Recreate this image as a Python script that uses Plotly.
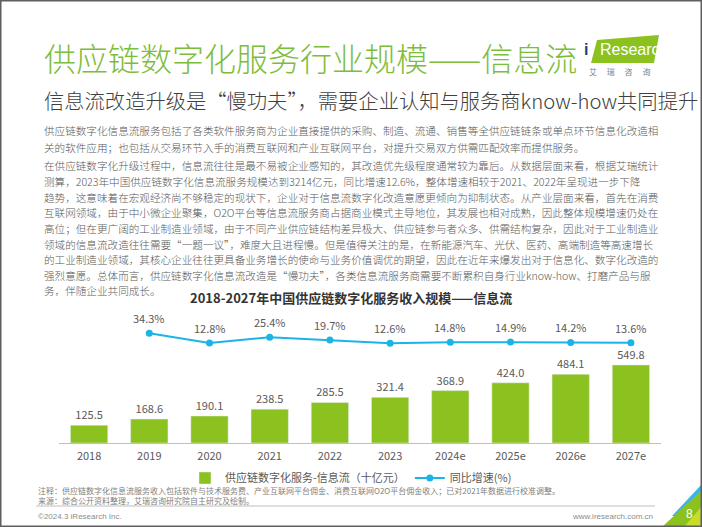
# iResearch slide: supply chain digital service scale - information flow

import plotly.graph_objects as go

W, H = 702, 527

# chart data
years = ['2018', '2019', '2020', '2021', '2022', '2023', '2024e', '2025e', '2026e', '2027e']
revenue = [125.5, 168.6, 190.1, 238.5, 285.5, 321.4, 368.9, 424.0, 484.1, 549.8]
growth_years = ['2019', '2020', '2021', '2022', '2023', '2024e', '2025e', '2026e', '2027e']
growth = [34.3, 12.8, 25.4, 19.7, 12.6, 14.8, 14.9, 14.2, 13.6]

# slide text
title = '供应链数字化服务行业规模——信息流'
subtitle = '信息流改造升级是“慢功夫”，需要企业认知与服务商know-how共同提升'
para1 = [
    '供应链数字化信息流服务包括了各类软件服务商为企业直接提供的采购、制造、流通、销售等全供应链链条或单点环节信息化改造相',
    '关的软件应用；也包括从交易环节入手的消费互联网和产业互联网平台，对提升交易双方供需匹配效率而提供服务。',
]
para2 = [
    '在供应链数字化升级过程中，信息流往往是最不易被企业感知的，其改造优先级程度通常较为靠后。从数据层面来看，根据艾瑞统计',
    '测算，2023年中国供应链数字化信息流服务规模达到3214亿元，同比增速12.6%，整体增速相较于2021、2022年呈现进一步下降',
    '趋势，这意味着在宏观经济尚不够稳定的现状下，企业对于信息流数字化改造意愿更倾向为抑制状态。从产业层面来看，首先在消费',
    '互联网领域，由于中小微企业聚集，O2O平台等信息流服务商占据商业模式主导地位，其发展也相对成熟，因此整体规模增速仍处在',
    '高位；但在更广阔的工业制造业领域，由于不同产业供应链结构差异极大、供应链参与者众多、供需结构复杂，因此对于工业制造业',
    '领域的信息流改造往往需要“一题一议”，难度大且进程慢。但是值得关注的是，在新能源汽车、光伏、医药、高端制造等高速增长',
    '的工业制造业领域，其核心企业往往更具备业务增长的使命与业务价值调优的期望，因此在近年来爆发出对于信息化、数字化改造的',
    '强烈意愿。总体而言，供应链数字化信息流改造是“慢功夫”，各类信息流服务商需要不断累积自身行业know-how、打磨产品与服',
    '务，伴随企业共同成长。',
]
chart_title = '2018-2027年中国供应链数字化服务收入规模——信息流'
note = '注释：供应链数字化信息流服务收入包括软件与技术服务费、产业互联网平台佣金、消费互联网O2O平台佣金收入；已对2021年数据进行校准调整。'
source = '来源：综合公开资料整理，艾瑞咨询研究院自主研究及绘制。'

FONT = 'Noto Sans CJK SC'
GREEN = '#8cc21f'
BLUE = '#1cb4e6'
GREY = '#595959'


def px(x):
    return x / W


def py(y):
    return 1 - y / H


def path(points):
    return 'M ' + ' L '.join(f'{px(x):.4f},{py(y):.4f}' for x, y in points) + ' Z'


fig = go.Figure()

fig.add_trace(go.Bar(
    x=years, y=revenue,
    name='供应链数字化服务-信息流（十亿元）',
    marker_color=GREEN,
    text=[f'{v:.1f}' for v in revenue],
    textposition='outside',
    textfont=dict(size=11, color=GREY),
    cliponaxis=False,
))

fig.add_trace(go.Scatter(
    x=growth_years, y=growth, yaxis='y2',
    name='同比增速(%)',
    mode='lines+markers',
    line=dict(color=BLUE, width=2),
    marker=dict(color=BLUE, size=7),
    cliponaxis=False,
))

# growth labels sit a bit higher above the markers than plotly's own text
# (category axis: annotations need the category index, '2019' would be read as index 2019)
for yr, g in zip(growth_years, growth):
    fig.add_annotation(x=years.index(yr), y=g, xref='x', yref='y2', yshift=15, showarrow=False,
                       text=f'{g:.1f}%', font=dict(size=11, color=GREY))

# text blocks
ann = []
ann.append(dict(x=px(42), y=py(57), text=title, xanchor='left', yanchor='middle',
                font=dict(size=32, color='#7dbd3c', family=FONT, weight=300)))
ann.append(dict(x=px(42), y=py(100), text=subtitle, xanchor='left', yanchor='middle',
                font=dict(size=20.3, color='#404040', family=FONT, weight=300)))
for i, line in enumerate(para1):
    ann.append(dict(x=px(42), y=py(131 + i * 16.5), text=line, xanchor='left', yanchor='middle',
                    font=dict(size=10.6, color=GREY, family=FONT, weight=300)))
for i, line in enumerate(para2):
    ann.append(dict(x=px(42), y=py(166 + i * 15.6), text=line, xanchor='left', yanchor='middle',
                    font=dict(size=10.6, color=GREY, family=FONT, weight=300)))
ann.append(dict(x=px(351), y=py(297), text='<b>' + chart_title + '</b>', xanchor='center', yanchor='middle',
                font=dict(size=13, color='#333333', family=FONT)))
ann.append(dict(x=px(36), y=py(490), text=note, xanchor='left', yanchor='middle',
                font=dict(size=8, color='#7f7f7f', family=FONT)))
ann.append(dict(x=px(36), y=py(500), text=source, xanchor='left', yanchor='middle',
                font=dict(size=8, color='#7f7f7f', family=FONT)))
ann.append(dict(x=px(36), y=py(516), text='©2024.3 iResearch Inc.', xanchor='left', yanchor='middle',
                font=dict(size=8, color='#8c8c8c', family='Liberation Sans')))
ann.append(dict(x=px(655), y=py(516), text='www.iresearch.com.cn', xanchor='right', yanchor='middle',
                font=dict(size=8, color='#8c8c8c', family='Liberation Sans')))
ann.append(dict(x=px(689), y=py(514), text='8', xanchor='center', yanchor='middle',
                font=dict(size=12, color='white', family='Liberation Sans')))
# logo
ann.append(dict(x=px(598), y=py(50), text='Research', xanchor='left', yanchor='middle',
                font=dict(size=16, color='white', family='Liberation Sans Narrow, Liberation Sans')))
ann.append(dict(x=px(590), y=py(50), text='<b>i</b>', xanchor='right', yanchor='middle',
                font=dict(size=16, color='#1d3f77', family='Liberation Sans')))
ann.append(dict(x=px(619), y=py(71), text='艾　 瑞　 咨　 询', xanchor='center', yanchor='middle',
                font=dict(size=8, color='#7f7f7f', family=FONT)))
for a in ann:
    a.update(xref='paper', yref='paper', showarrow=False)
    fig.add_annotation(**a)

shapes = [
    # logo flag
    dict(type='path', path=path([(591, 63), (597, 40), (659, 35), (654, 63)]),
         fillcolor='#8cc21f', line_width=0),
    # footer rule
    dict(type='line', x0=px(36), x1=px(655), y0=py(506), y1=py(506), line=dict(color='#bfbfbf', width=1)),
    # page corner
    dict(type='path', path=path([(672, 516), (702, 484), (702, 516)]), fillcolor='#3cb4e6', line_width=0),
    dict(type='path', path=path([(662, 527), (702, 490), (702, 527)]), fillcolor='#8cc21f', line_width=0),
    dict(type='path', path=path([(684, 527), (702, 506), (702, 527)]), fillcolor='#c8dc2c', line_width=0),
    # frame
    dict(type='rect', x0=0, x1=1, y0=0, y1=1, line=dict(color='#5f5f5f', width=3)),
]
for s in shapes:
    s.update(xref='paper', yref='paper')

fig.update_layout(
    width=W, height=H,
    margin=dict(l=0, r=0, t=0, b=0),
    paper_bgcolor='white', plot_bgcolor='white',
    font=dict(family=FONT, color=GREY),
    bargap=0.38,
    showlegend=True,
    legend=dict(orientation='h', x=px(351), xanchor='center', y=py(478), yanchor='middle',
                font=dict(size=11, color=GREY), itemwidth=30, bgcolor='rgba(0,0,0,0)'),
    xaxis=dict(type='category', domain=[px(59), px(661)], anchor='y', range=[-0.5, 9.5],
               showline=True, linecolor='#bfbfbf', linewidth=1,
               ticks='outside', ticklen=3, tickcolor='rgba(0,0,0,0)',
               showgrid=False, tickfont=dict(size=11, color=GREY),
               categoryorder='array', categoryarray=years),
    yaxis=dict(domain=[py(443), py(350)], range=[0, 655], visible=False, showgrid=False),
    yaxis2=dict(domain=[py(349), py(301)], range=[0, 104], anchor='x', visible=False, showgrid=False),
    shapes=shapes,
)

# page has default body margin; drop it so the figure fills the window
fig.write_html('out.html', config={'displayModeBar': False},
               post_script="document.body.style.margin='0';document.body.style.overflow='hidden';")
